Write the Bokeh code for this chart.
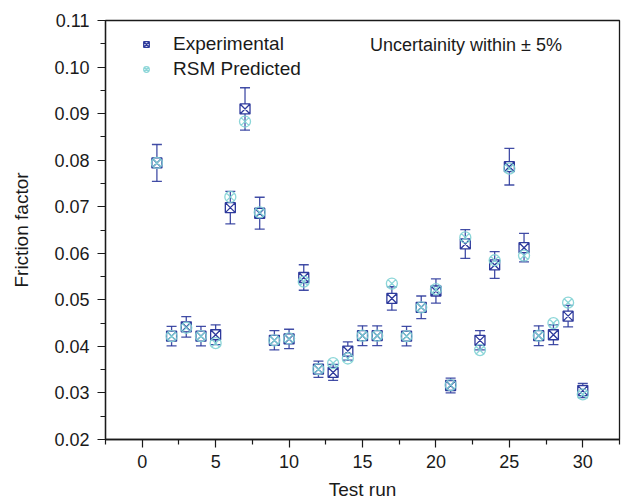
from bokeh.plotting import figure
from bokeh.models import (ColumnDataSource, Whisker, TeeHead, Legend, LegendItem,
                          FixedTicker, Label, NumeralTickFormatter, Range1d)
from bokeh.embed import file_html
from bokeh.resources import INLINE

# ---- data ----
runs = list(range(1, 31))
experimental = [0.0794, 0.0422, 0.0442, 0.0422, 0.0425, 0.0698, 0.0910, 0.0686, 0.0413, 0.0416,
                0.0548, 0.0351, 0.0344, 0.0390, 0.0423, 0.0423, 0.0503, 0.0422, 0.0484, 0.0519,
                0.0316, 0.0620, 0.0413, 0.0575, 0.0786, 0.0612, 0.0423, 0.0425, 0.0465, 0.0305]
predicted = [0.0794, 0.0422, 0.0440, 0.0422, 0.0407, 0.0721, 0.0883, 0.0688, 0.0413, 0.0417,
             0.0539, 0.0351, 0.0364, 0.0374, 0.0423, 0.0423, 0.0535, 0.0422, 0.0484, 0.0523,
             0.0317, 0.0634, 0.0392, 0.0585, 0.0782, 0.0595, 0.0423, 0.0450, 0.0494, 0.0297]
uncertainty = 0.05  # "Uncertainity within ± 5%"
x_ticks = [0, 5, 10, 15, 20, 25, 30]
y_ticks = [0.02, 0.03, 0.04, 0.05, 0.06, 0.07, 0.08, 0.09, 0.10, 0.11]

upper = [v * (1 + uncertainty) for v in experimental]
lower = [v * (1 - uncertainty) for v in experimental]
src = ColumnDataSource(dict(run=runs, exp=experimental, pred=predicted, upper=upper, lower=lower))

NAVY = "#2e3a9c"
CYAN = "#7fd2d4"
FONT = "Liberation Sans"
INK = "#1a1a1a"

p = figure(width=624, height=502, output_backend="svg", toolbar_location=None,
           x_range=Range1d(-2.5, 32.5), y_range=Range1d(0.02, 0.11),
           min_border_left=105, min_border_right=5, min_border_top=20, min_border_bottom=63)
p.grid.visible = False
p.background_fill_color = "white"
p.border_fill_color = "white"
p.outline_line_color = INK
p.outline_line_width = 1.3

# axes
p.xaxis.ticker = FixedTicker(ticks=x_ticks, minor_ticks=[-2.5 + 5 * i for i in range(8)])
p.yaxis.ticker = FixedTicker(ticks=y_ticks, minor_ticks=[0.015 + 0.01 * i for i in range(11)])
p.yaxis.formatter = NumeralTickFormatter(format="0.00")
for ax in (p.xaxis[0], p.yaxis[0]):
    ax.axis_line_color = INK
    ax.axis_line_width = 1.3
    ax.major_tick_line_color = INK
    ax.minor_tick_line_color = INK
    ax.major_tick_line_width = 1.2
    ax.minor_tick_line_width = 1.2
    ax.major_tick_out = 8
    ax.major_tick_in = 0
    ax.minor_tick_out = 5
    ax.minor_tick_in = 0
    ax.major_label_text_font = FONT
    ax.major_label_text_font_size = "18px"
    ax.major_label_text_color = INK
    ax.axis_label_text_font = FONT
    ax.axis_label_text_font_size = "19px"
    ax.axis_label_text_font_style = "normal"
    ax.axis_label_text_color = INK
p.xaxis.axis_label = "Test run"
p.yaxis.axis_label = "Friction factor"
p.xaxis.major_label_standoff = 7
p.xaxis.axis_label_standoff = 8
p.yaxis.major_label_standoff = 8
p.yaxis.axis_label_standoff = 19

# error bars
whisk = Whisker(source=src, base="run", upper="upper", lower="lower",
                line_color=NAVY, line_width=1.3, line_alpha=0.9,
                upper_head=TeeHead(size=10, line_color=NAVY, line_width=1.3, line_alpha=0.9),
                lower_head=TeeHead(size=10, line_color=NAVY, line_width=1.3, line_alpha=0.9))
p.add_layout(whisk)

r_exp = p.scatter("run", "exp", source=src, marker="square_x", size=10,
                  line_color=NAVY, fill_color="white", line_width=1.3)
r_pred = p.scatter("run", "pred", source=src, marker="circle_x", size=11,
                   line_color=CYAN, fill_color=None, line_width=1.3, line_alpha=0.9)

legend = Legend(items=[LegendItem(label="Experimental", renderers=[r_exp]),
                       LegendItem(label="RSM Predicted", renderers=[r_pred])],
                location=(34, 359), padding=0, spacing=3, glyph_width=14, glyph_height=14,
                label_standoff=20, label_height=20, border_line_color=None,
                background_fill_alpha=0, label_text_font=FONT, label_text_font_size="19px",
                label_text_color=INK)
p.add_layout(legend)

p.add_layout(Label(x=22.05, y=0.1048, text="Uncertainity within ± 5%", text_align="center",
                   text_baseline="middle", text_font=FONT, text_font_size="18px",
                   text_color=INK))

open("out.html", "w").write(file_html(p, INLINE))
